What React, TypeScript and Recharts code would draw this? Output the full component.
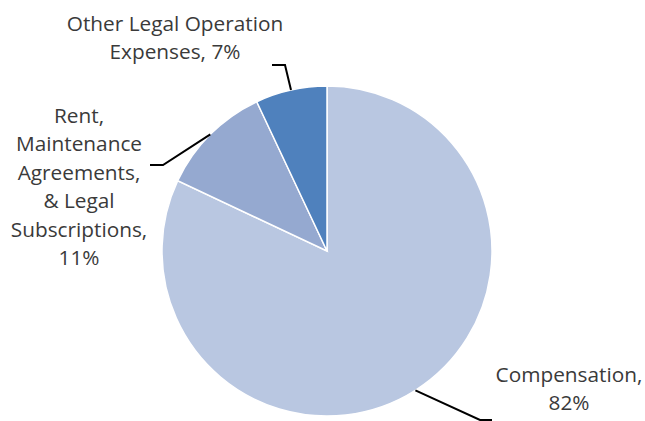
import React from "react";
import { PieChart, Pie, Cell } from "recharts";

const categories = [
  "Compensation",
  "Rent, Maintenance Agreements, & Legal Subscriptions",
  "Other Legal Operation Expenses",
];
const values = [82, 11, 7];
const labelLines = [
  ["Compensation,", "82%"],
  ["Rent,", "Maintenance", "Agreements,", "& Legal", "Subscriptions,", "11%"],
  ["Other Legal Operation", "Expenses, 7%"],
];
const colors = ["#B9C7E1", "#95A9D0", "#4F81BD"];

const data = categories.map((name, i) => ({ name, value: values[i] }));

// label layout, offsets relative to pie centre
const layout = [
  { elbow: [153, 169], end: [165, 169], tx: 242, ty: 130.5 },
  { elbow: [-164, -86], end: [-177, -86], tx: -248, ty: -128.5 },
  { elbow: [-42, -186], end: [-55, -186], tx: -152, ty: -220.5 },
];
const LINE_H = 28.5;
const RAD = Math.PI / 180;

const renderLabel = (props: any) => {
  const { cx, cy, midAngle, outerRadius, index } = props;
  const l = layout[index];
  const sx = cx + outerRadius * Math.cos(-midAngle * RAD);
  const sy = cy + outerRadius * Math.sin(-midAngle * RAD);
  const ex = cx + l.elbow[0];
  const ey = cy + l.elbow[1];
  const fx = cx + l.end[0];
  const fy = cy + l.end[1];
  return (
    <g key={`lbl-${index}`}>
      <polyline
        points={`${sx},${sy} ${ex},${ey} ${fx},${fy}`}
        fill="none"
        stroke="#000"
        strokeWidth={2}
      />
      <text
        x={cx + l.tx}
        y={cy + l.ty}
        textAnchor="middle"
        fill="#3a3a3a"
        fontFamily="'Open Sans', sans-serif"
        fontSize={20.8}
      >
        {labelLines[index].map((t, k) => (
          <tspan key={k} x={cx + l.tx} y={cy + l.ty + k * LINE_H}>
            {t}
          </tspan>
        ))}
      </text>
    </g>
  );
};

export default function App() {
  return (
    <div style={{ position: "absolute", left: 0, top: 0, background: "#fff" }}>
      <PieChart width={645} height={421} margin={{ top: 0, right: 0, bottom: 0, left: 0 }}>
        <Pie
          data={data}
          dataKey="value"
          nameKey="name"
          cx={327}
          cy={251}
          outerRadius={165}
          startAngle={90}
          endAngle={-270}
          stroke="#ffffff"
          strokeWidth={1.5}
          label={renderLabel}
          labelLine={false}
          isAnimationActive={false}
        >
          {data.map((d, i) => (
            <Cell key={d.name} fill={colors[i]} />
          ))}
        </Pie>
      </PieChart>
    </div>
  );
}
